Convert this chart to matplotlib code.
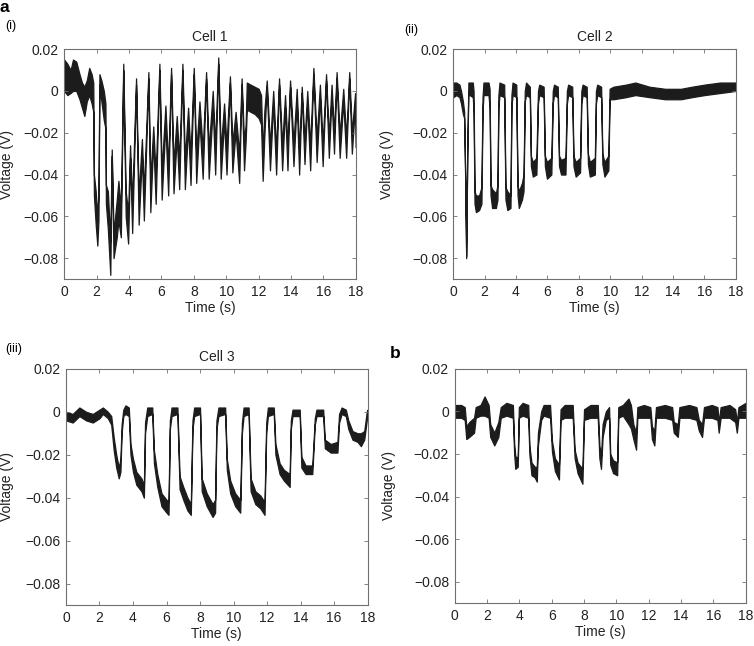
'''Voltage traces of three cells (a) and a combined recording (b)'''

import matplotlib
matplotlib.use('Agg')
import matplotlib.pyplot as plt

plt.rcParams['font.family'] = ['Liberation Sans', 'DejaVu Sans']

# Each row: time (s), lower edge (V), upper edge (V) of the noisy trace,
# read off the original figure.
cell1_trace = [
    (0.00, 0.000, 0.015), (0.20, -0.002, 0.013), (0.40, -0.001, 0.010),
    (0.55, 0.000, 0.015), (0.75, 0.000, 0.014), (0.95, -0.004, 0.008),
    (1.10, -0.008, 0.004), (1.25, -0.012, 0.002), (1.40, -0.005, 0.005),
    (1.55, -0.002, 0.011), (1.70, -0.006, 0.008), (1.80, -0.010, 0.004),
    (1.84, -0.050, -0.040), (1.95, -0.064, -0.048), (2.05, -0.074, -0.060),
    (2.12, -0.062, -0.048), (2.18, 0.003, 0.008), (2.30, -0.005, 0.005),
    (2.45, -0.014, 0.000), (2.55, -0.018, -0.006), (2.58, -0.054, -0.045),
    (2.70, -0.066, -0.048), (2.85, -0.088, -0.072), (2.94, -0.031, -0.028),
    (3.05, -0.080, -0.068), (3.25, -0.070, -0.052), (3.35, -0.062, -0.043),
    (3.50, -0.070, -0.056), (3.65, 0.010, 0.013), (3.80, -0.060, -0.048),
    (3.95, -0.073, -0.058), (4.07, -0.032, -0.026), (4.20, -0.068, -0.053),
    (4.44, 0.003, 0.006), (4.60, -0.064, -0.050), (4.80, -0.031, -0.023),
    (4.92, -0.062, -0.048), (5.20, 0.006, 0.009), (5.32, -0.058, -0.043),
    (5.50, -0.024, -0.017), (5.65, -0.054, -0.040), (5.88, 0.010, 0.013),
    (6.02, -0.052, -0.038), (6.25, -0.016, -0.007), (6.42, -0.050, -0.036),
    (6.60, 0.008, 0.011), (6.75, -0.049, -0.035), (6.95, -0.022, -0.012),
    (7.10, -0.047, -0.033), (7.30, 0.010, 0.013), (7.45, -0.047, -0.033),
    (7.65, -0.017, -0.008), (7.80, -0.045, -0.031), (8.00, 0.008, 0.011),
    (8.15, -0.044, -0.030), (8.35, -0.014, -0.005), (8.55, -0.042, -0.028),
    (8.76, 0.006, 0.009), (8.92, -0.042, -0.028), (9.17, -0.008, 0.000),
    (9.32, -0.040, -0.026), (9.51, 0.013, 0.016), (9.66, -0.042, -0.028),
    (9.87, -0.014, -0.006), (10.02, -0.040, -0.026), (10.23, 0.004, 0.007),
    (10.38, -0.039, -0.025), (10.58, -0.019, -0.010), (10.80, -0.044, -0.030),
    (10.95, 0.003, 0.006), (11.10, -0.038, -0.024), (11.20, -0.024, -0.016),
    (11.27, -0.009, 0.004), (11.50, -0.010, 0.003), (11.75, -0.011, 0.002),
    (12.00, -0.013, 0.001), (12.15, -0.016, -0.002), (12.25, -0.043, -0.030),
    (12.35, -0.022, -0.010), (12.50, 0.002, 0.005), (12.70, -0.038, -0.026),
    (12.90, -0.006, 0.000), (13.08, -0.040, -0.028), (13.26, 0.003, 0.006),
    (13.45, -0.038, -0.026), (13.63, -0.008, -0.002), (13.78, -0.038, -0.026),
    (13.94, 0.002, 0.005), (14.15, -0.036, -0.025), (14.35, -0.005, 0.001),
    (14.50, -0.040, -0.028), (14.66, -0.001, 0.002), (14.83, -0.035, -0.024),
    (15.00, -0.006, 0.000), (15.18, -0.038, -0.026), (15.38, 0.008, 0.011),
    (15.58, -0.034, -0.023), (15.78, -0.003, 0.003), (15.95, -0.036, -0.025),
    (16.16, 0.005, 0.008), (16.33, -0.032, -0.022), (16.50, -0.003, 0.003),
    (16.65, -0.030, -0.020), (16.81, 0.006, 0.009), (17.00, -0.032, -0.021),
    (17.22, -0.005, 0.001), (17.40, -0.032, -0.022), (17.59, 0.006, 0.009),
    (17.75, -0.030, -0.020), (17.95, -0.006, -0.001), (18.00, -0.027, -0.016),
]

cell2_trace = [
    (0.00, -0.003, 0.004), (0.20, -0.002, 0.004), (0.40, -0.003, 0.003),
    (0.50, -0.006, 0.000), (0.62, -0.011, -0.005), (0.70, -0.013, -0.010),
    (0.76, -0.040, -0.037), (0.83, -0.080, -0.079), (0.90, -0.030, -0.027),
    (0.97, 0.000, 0.004), (1.05, -0.002, 0.004), (1.25, -0.003, 0.004),
    (1.30, -0.010, 0.000), (1.36, -0.054, -0.048), (1.45, -0.058, -0.050),
    (1.65, -0.057, -0.050), (1.80, -0.054, -0.046), (1.87, -0.010, -0.003),
    (1.93, -0.002, 0.004), (2.25, -0.002, 0.004), (2.32, -0.008, 0.001),
    (2.38, -0.050, -0.045), (2.48, -0.056, -0.047), (2.72, -0.056, -0.049),
    (2.82, -0.052, -0.045), (2.88, -0.008, -0.002), (2.95, -0.002, 0.004),
    (3.25, -0.003, 0.003), (3.33, -0.052, -0.046), (3.45, -0.057, -0.048),
    (3.65, -0.056, -0.050), (3.71, -0.008, -0.002), (3.78, -0.002, 0.004),
    (4.02, -0.003, 0.003), (4.10, -0.050, -0.045), (4.18, -0.056, -0.048),
    (4.38, -0.052, -0.044), (4.48, -0.048, -0.040), (4.56, -0.005, 0.000),
    (4.64, -0.002, 0.004), (4.88, -0.003, 0.002), (4.95, -0.036, -0.031),
    (5.07, -0.041, -0.034), (5.30, -0.040, -0.032), (5.40, -0.006, 0.000),
    (5.48, -0.002, 0.003), (5.76, -0.003, 0.002), (5.84, -0.036, -0.031),
    (5.97, -0.042, -0.034), (6.25, -0.040, -0.032), (6.34, -0.006, 0.000),
    (6.42, -0.002, 0.003), (6.66, -0.003, 0.002), (6.74, -0.036, -0.031),
    (6.87, -0.040, -0.033), (7.15, -0.040, -0.032), (7.24, -0.006, 0.000),
    (7.32, -0.002, 0.003), (7.58, -0.003, 0.002), (7.66, -0.036, -0.031),
    (7.80, -0.041, -0.034), (8.08, -0.039, -0.032), (8.16, -0.006, 0.000),
    (8.24, -0.002, 0.003), (8.50, -0.003, 0.002), (8.58, -0.035, -0.030),
    (8.70, -0.041, -0.034), (9.02, -0.040, -0.032), (9.09, -0.006, 0.000),
    (9.17, -0.002, 0.003), (9.42, -0.003, 0.002), (9.50, -0.035, -0.030),
    (9.63, -0.041, -0.034), (9.88, -0.038, -0.031), (9.96, -0.004, 0.001),
    (10.20, -0.004, 0.002), (11.00, -0.003, 0.003), (11.60, -0.002, 0.004),
    (12.50, -0.003, 0.002), (13.50, -0.004, 0.001), (14.50, -0.004, 0.001),
    (15.20, -0.003, 0.002), (16.00, -0.002, 0.003), (17.00, -0.001, 0.004),
    (18.00, 0.000, 0.004),
]

cell3_trace = [
    (0.00, -0.004, 0.000), (0.40, -0.005, -0.001), (0.80, -0.002, 0.002),
    (1.20, -0.004, 0.000), (1.60, -0.005, -0.001), (2.00, -0.003, 0.001),
    (2.20, -0.001, 0.002), (2.50, -0.003, 0.000), (2.70, -0.006, -0.002),
    (2.85, -0.018, -0.012), (3.00, -0.026, -0.020), (3.15, -0.031, -0.026),
    (3.25, -0.028, -0.022), (3.32, -0.010, -0.006), (3.42, -0.002, 0.001),
    (3.55, -0.001, 0.003), (3.75, -0.002, 0.002), (3.85, -0.020, -0.015),
    (4.00, -0.028, -0.022), (4.20, -0.034, -0.028), (4.50, -0.037, -0.031),
    (4.65, -0.040, -0.034), (4.72, -0.010, -0.005), (4.85, -0.002, 0.002),
    (5.15, -0.001, 0.002), (5.25, -0.024, -0.018), (5.45, -0.035, -0.029),
    (5.70, -0.044, -0.038), (6.00, -0.047, -0.041), (6.12, -0.048, -0.042),
    (6.20, -0.008, -0.004), (6.30, -0.002, 0.002), (6.65, -0.001, 0.002),
    (6.78, -0.036, -0.030), (7.00, -0.041, -0.035), (7.25, -0.046, -0.040),
    (7.45, -0.048, -0.043), (7.55, -0.008, -0.004), (7.65, -0.002, 0.002),
    (8.00, -0.001, 0.002), (8.10, -0.037, -0.031), (8.40, -0.044, -0.038),
    (8.75, -0.049, -0.043), (8.90, -0.047, -0.041), (8.98, -0.008, -0.004),
    (9.10, -0.002, 0.002), (9.50, -0.001, 0.002), (9.60, -0.027, -0.022),
    (9.80, -0.038, -0.032), (10.10, -0.044, -0.038), (10.40, -0.047, -0.041),
    (10.50, -0.010, -0.005), (10.60, -0.002, 0.002), (10.90, -0.001, 0.002),
    (11.02, -0.037, -0.031), (11.30, -0.043, -0.037), (11.60, -0.045, -0.039),
    (11.85, -0.048, -0.042), (11.95, -0.010, -0.005), (12.05, -0.002, 0.002),
    (12.40, -0.001, 0.002), (12.50, -0.020, -0.015), (12.75, -0.029, -0.024),
    (13.00, -0.032, -0.027), (13.35, -0.035, -0.029), (13.42, -0.008, -0.004),
    (13.52, -0.002, 0.001), (13.95, -0.002, 0.001), (14.05, -0.026, -0.021),
    (14.30, -0.029, -0.025), (14.70, -0.029, -0.025), (14.85, -0.006, -0.003),
    (14.95, -0.002, 0.001), (15.35, -0.002, 0.001), (15.45, -0.017, -0.013),
    (15.80, -0.019, -0.015), (16.20, -0.019, -0.014), (16.30, -0.005, -0.001),
    (16.45, -0.001, 0.002), (16.70, -0.002, 0.001), (16.85, -0.008, -0.004),
    (17.10, -0.013, -0.009), (17.40, -0.014, -0.010), (17.60, -0.016, -0.010),
    (17.80, -0.013, -0.009), (17.95, -0.004, 0.000), (18.00, -0.001, 0.001),
]

combined_trace = [
    (0.00, -0.003, 0.003), (0.40, -0.003, 0.003), (0.62, -0.004, 0.002),
    (0.72, -0.013, -0.007), (0.90, -0.012, -0.005), (1.20, -0.010, -0.003),
    (1.30, -0.003, 0.002), (1.60, -0.002, 0.003), (1.85, -0.002, 0.007),
    (2.10, -0.003, 0.003), (2.20, -0.012, -0.006), (2.45, -0.016, -0.010),
    (2.70, -0.012, -0.005), (2.85, -0.003, 0.002), (3.20, -0.002, 0.004),
    (3.60, -0.003, 0.003), (3.68, -0.020, -0.015), (3.75, -0.027, -0.021),
    (3.90, -0.026, -0.022), (3.97, -0.003, 0.002), (4.20, -0.002, 0.004),
    (4.55, -0.003, 0.003), (4.62, -0.020, -0.016), (4.75, -0.030, -0.024),
    (4.95, -0.031, -0.026), (5.08, -0.033, -0.026), (5.15, -0.016, -0.010),
    (5.35, -0.004, 0.000), (5.50, -0.002, 0.003), (5.90, -0.003, 0.003),
    (6.02, -0.019, -0.014), (6.20, -0.028, -0.022), (6.45, -0.032, -0.025),
    (6.55, -0.004, 0.001), (6.80, -0.003, 0.003), (7.30, -0.003, 0.003),
    (7.42, -0.022, -0.018), (7.60, -0.029, -0.024), (7.90, -0.034, -0.027),
    (8.00, -0.004, 0.001), (8.40, -0.003, 0.003), (8.85, -0.003, 0.003),
    (8.95, -0.022, -0.016), (9.05, -0.027, -0.021), (9.15, -0.012, -0.006),
    (9.35, -0.004, 0.000), (9.55, -0.003, 0.002), (9.62, -0.025, -0.020),
    (9.80, -0.029, -0.023), (10.05, -0.030, -0.024), (10.12, -0.003, 0.002),
    (10.40, -0.002, 0.003), (10.75, -0.006, 0.006), (10.90, -0.008, 0.003),
    (11.05, -0.013, -0.006), (11.22, -0.018, -0.010), (11.30, -0.003, 0.002),
    (11.70, -0.003, 0.003), (12.10, -0.003, 0.002), (12.20, -0.013, -0.007),
    (12.35, -0.016, -0.009), (12.45, -0.003, 0.002), (13.00, -0.003, 0.003),
    (13.45, -0.004, 0.002), (13.55, -0.010, -0.005), (13.80, -0.012, -0.006),
    (13.90, -0.003, 0.002), (14.50, -0.003, 0.003), (14.95, -0.004, 0.002),
    (15.10, -0.009, -0.004), (15.30, -0.012, -0.006), (15.42, -0.003, 0.002),
    (15.90, -0.003, 0.003), (16.25, -0.004, 0.002), (16.33, -0.010, -0.005),
    (16.45, -0.003, 0.002), (17.00, -0.003, 0.003), (17.35, -0.005, 0.001),
    (17.45, -0.010, -0.005), (17.55, -0.003, 0.002), (18.00, -0.003, 0.004),
]

x_ticks = [0, 2, 4, 6, 8, 10, 12, 14, 16, 18]
y_ticks = [0.02, 0, -0.02, -0.04, -0.06, -0.08]
y_tick_labels = ['0.02', '0', '\u22120.02', '\u22120.04', '\u22120.06', '\u22120.08']

TRACE_COLOR = '#1c1c1c'
FRAME_COLOR = '#707070'
TEXT_COLOR = '#222222'


def plot_trace(ax, trace, title=None, ylabelpad=10):
    t, lo, hi = zip(*trace)
    ax.fill_between(t, lo, hi, color=TRACE_COLOR, lw=0.9)

    ax.set_xlim(0, 18)
    ax.set_ylim(-0.09, 0.02)
    ax.set_xticks(x_ticks)
    ax.set_yticks(y_ticks)
    ax.set_yticklabels(y_tick_labels)

    # matlab style frame: ticks inside on every side
    ax.tick_params(direction='in', top=True, right=True, length=3,
                   width=0.6, color=FRAME_COLOR, labelsize=10,
                   labelcolor=TEXT_COLOR, pad=4)
    for spine in ax.spines.values():
        spine.set_color(FRAME_COLOR)
        spine.set_linewidth(0.8)

    ax.set_xlabel('Time (s)', fontsize=10, color=TEXT_COLOR, labelpad=2)
    ax.set_ylabel('Voltage (V)', fontsize=10, color=TEXT_COLOR,
                  labelpad=ylabelpad)
    if title:
        ax.set_title(title, fontsize=10, color=TEXT_COLOR, pad=6)


fig = plt.figure(figsize=(7.54, 6.46), dpi=100)

ax1 = fig.add_axes([0.085, 0.568, 0.387, 0.356])
ax2 = fig.add_axes([0.601, 0.568, 0.375, 0.356])
ax3 = fig.add_axes([0.0875, 0.0635, 0.400, 0.3655])
ax4 = fig.add_axes([0.603, 0.0666, 0.386, 0.3625])

plot_trace(ax1, cell1_trace, 'Cell 1', ylabelpad=7)
plot_trace(ax2, cell2_trace, 'Cell 2', ylabelpad=13)
plot_trace(ax3, cell3_trace, 'Cell 3', ylabelpad=8)
plot_trace(ax4, combined_trace, None, ylabelpad=13)

# panel letters
fig.text(0.0, 1.0, 'a', ha='left', va='top', fontsize=12.5, fontweight='bold')
fig.text(5 / 754, 1 - 26 / 646, '(i)', ha='left', va='center', fontsize=9)
fig.text(404 / 754, 1 - 30 / 646, '(ii)', ha='left', va='center', fontsize=9)
fig.text(5 / 754, 1 - 349 / 646, '(iii)', ha='left', va='center', fontsize=9)
fig.text(390 / 754, 1 - 354 / 646, 'b', ha='left', va='center',
         fontsize=12.5, fontweight='bold')

fig.savefig('out.png', dpi=100)
